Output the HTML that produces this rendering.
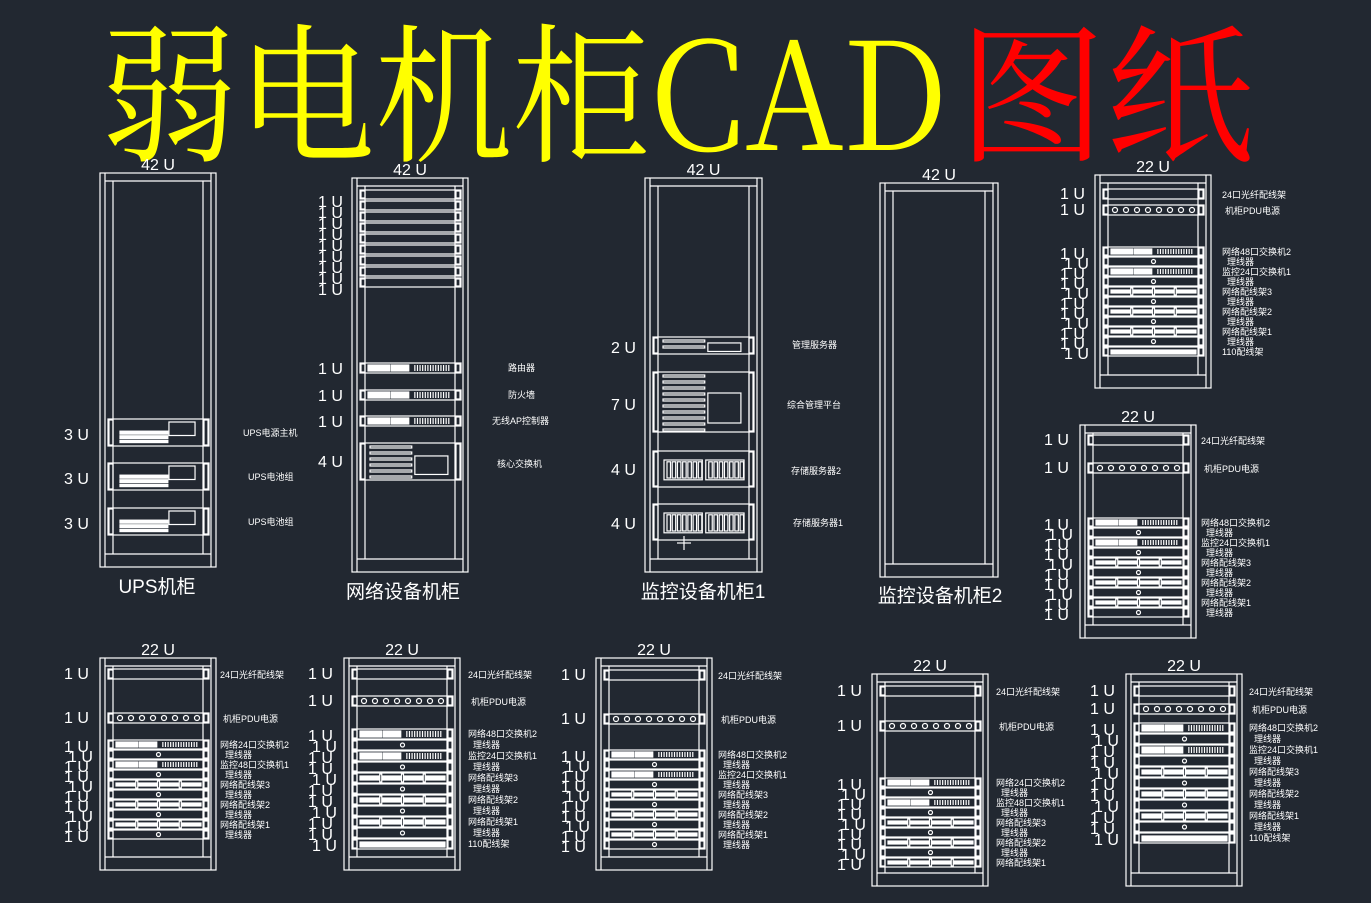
<!DOCTYPE html>
<html><head><meta charset="utf-8"><style>
html,body{margin:0;padding:0;background:#222831;width:1371px;height:903px;overflow:hidden}
svg{display:block}
text{font-family:"Liberation Sans","Noto Sans CJK SC",sans-serif;fill:#fff}
</style></head><body>
<svg id="s" width="1371" height="903" viewBox="0 0 1371 903" xmlns="http://www.w3.org/2000/svg">
<rect width="1371" height="903" fill="#222831"/>
<text x="100" y="150" font-size="150" textLength="848" lengthAdjust="spacingAndGlyphs" style="font-family:'Noto Serif CJK SC','Liberation Serif',serif;fill:#ffff00">弱电机柜CAD</text>
<text x="958" y="150" font-size="150" textLength="296" lengthAdjust="spacingAndGlyphs" style="font-family:'Noto Serif CJK SC',serif;fill:#ff0000">图纸</text>
<g id="g" fill="none" stroke="#fff" stroke-width="1.2"></g>
</svg>
<script>
var g=document.getElementById('g'),S=document.getElementById('s'),NS='http://www.w3.org/2000/svg';
function el(t,a,p){var e=document.createElementNS(NS,t);for(var k in a)e.setAttribute(k,a[k]);(p||g).appendChild(e);return e}
function R(x,y,w,h,f){el('rect',{x:x,y:y,width:w,height:h,fill:f||'none'})}
function L(x1,y1,x2,y2){el('line',{x1:x1,y1:y1,x2:x2,y2:y2})}
function T(x,y,s,sz,anc){var e=el('text',{x:x,y:y,'font-size':sz||10,'text-anchor':anc||'start'},S);e.textContent=s}
function rack(x,y,w,h,lab){
 R(x,y,w,h);L(x+5,y,x+5,y+h);L(x+w-5,y,x+w-5,y+h);L(x+5,y+8,x+w-5,y+8);
 L(x+5,y+h-13,x+w-5,y+h-13);L(x+13,y+8,x+13,y+h-13);L(x+w-13,y+8,x+w-13,y+h-13);
 T(x+w/2,y-3,lab,16,'middle');
}
function ears(x,y,w,h){R(x,y,w,h);R(x+1,y+1,4,h-2);R(x+w-5,y+1,4,h-2)}
function dev(t,x,y,w,h){
 ears(x,y,w,h);var i=x+7,iw=w-14;
 if(t=='pdu'){for(var k=0;k<8;k++){el('circle',{cx:i+5+k*(iw-10)/7,cy:y+h/2,r:2.5})}}
 else if(t=='sw'){R(i+1,y+2,iw*0.25,h-4,'#fff');R(i+iw*0.28,y+2,iw*0.2,h-4,'#fff');for(var k=0;k<14;k++)L(i+iw*0.55+k*iw*0.03,y+2,i+iw*0.55+k*iw*0.03,y+h-2)}
 else if(t=='cm'){el('circle',{cx:x+w/2,cy:y+h/2,r:2})}
 else if(t=='pp'){R(i+1,y+3,iw-2,h-6,'#fff');for(var k=1;k<4;k++)R(i+k*iw/4-1,y+1,2,h-2,'#222831')}
 else if(t=='110'){R(i+1,y+3,iw-2,h-5,'#fff')}
 else if(t=='ups'){R(i+5,y+h*0.45,iw*0.55,3,'#fff');R(i+5,y+h*0.62,iw*0.55,3,'#fff');R(i+5,y+h*0.8,iw*0.55,2,'#fff');R(i+iw*0.62,y+3,iw*0.3,h*0.5)}
 else if(t=='srv'){for(var k=0;k<2;k++){var sx=i+4+k*iw*0.48;R(sx,y+h*0.25,iw*0.44,h*0.55);for(var j=0;j<7;j++)R(sx+3+j*iw*0.06,y+h*0.3,iw*0.04,h*0.45)}}
 else if(t=='big'){var n=Math.floor(h/6);for(var k=0;k<n;k++)R(i+3,y+3+k*6,iw*0.48,2);R(i+iw*0.55,y+h*0.35,iw*0.38,h*0.5)}
}
function Ulab(x,y,s){T(x,y,s,16)}
rack(100,173,116,394,'42 U');
[[419,'UPS电源主机',243],[463,'UPS电池组',248],[508,'UPS电池组',248]].forEach(function(d){dev('ups',108,d[0],101,27);Ulab(64,d[0]+21,'3 U');T(d[2],d[0]+17,d[1],9)});
T(157,593,'UPS机柜',19,'middle');
rack(352,178,116,394,'42 U');
for(var k=0;k<9;k++){dev('1u',360,190+k*11,101,9);Ulab(318,207+k*11,'1 U')}
[[363,'路由器',508],[390,'防火墙',508],[416,'无线AP控制器',492]].forEach(function(d){dev('sw',360,d[0],101,10);Ulab(318,d[0]+11,'1 U');T(d[2],d[0]+8,d[1],9)});
dev('big',360,443,101,37);Ulab(318,467,'4 U');T(497,467,'核心交换机',9);
T(403,598,'网络设备机柜',19,'middle');
rack(645,178,117,394,'42 U');
dev('big',653,337,101,17);Ulab(611,353,'2 U');T(792,348,'管理服务器',9);
dev('big',653,372,101,60);Ulab(611,410,'7 U');T(787,408,'综合管理平台',9);
dev('srv',653,451,101,36);Ulab(611,475,'4 U');T(791,474,'存储服务器2',9);
dev('srv',653,504,101,36);Ulab(611,529,'4 U');T(793,526,'存储服务器1',9);
L(677,543,691,543);L(684,536,684,550);
T(703,598,'监控设备机柜1',19,'middle');
rack(880,183,118,394,'42 U');
T(940,602,'监控设备机柜2',19,'middle');
var seqA=['sw','cm','sw','cm','pp','cm','pp','cm','pp','cm','110'];
var namesA=['网络48口交换机2','理线器','监控24口交换机1','理线器','网络配线架3','理线器','网络配线架2','理线器','网络配线架1','理线器','110配线架'];
var namesB=['网络24口交换机2','理线器','监控48口交换机1','理线器','网络配线架3','理线器','网络配线架2','理线器','网络配线架1','理线器'];
function r22(x,y,h,fy,py,ss,sh,n,names,lx,tx){
 rack(x,y,116,h,'22 U');
 dev('1u',x+8,fy,101,10);Ulab(lx,fy+10,'1 U');T(tx,fy+9,'24口光纤配线架',9);
 dev('pdu',x+8,py,101,10);Ulab(lx,py+10,'1 U');T(tx+3,py+9,'机柜PDU电源',9);
 for(var k=0;k<n;k++){var yy=ss+k*sh;dev(seqA[k],x+8,yy,101,sh-1);Ulab(lx+(k%3==1?4:0),yy+12,'1 U');T(tx+(k%2?5:0),yy+8,names[k],9)}
}
r22(1095,175,213,189,205,247,10,11,namesA,1060,1222);
r22(1080,425,213,435,463,518,10,10,namesA,1044,1201);
r22(100,658,212,669,713,740,10,10,namesB,64,220);
r22(344,658,212,669,696,729,11,11,namesA,308,468);
r22(596,658,212,670,714,750,10,10,namesA,561,718);
r22(872,674,212,686,721,778,10,9,namesB,837,996);
r22(1126,674,212,686,704,723,11,11,namesA,1090,1249);
</script>
</body></html>
